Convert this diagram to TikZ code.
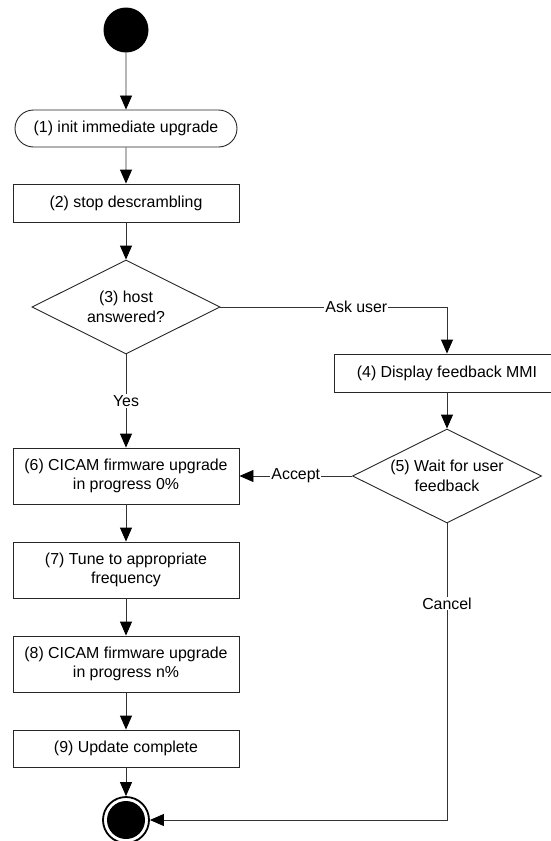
\documentclass[tikz,border=0pt]{standalone}
\usepackage{fontspec}
\setmainfont{Liberation Sans}
\usetikzlibrary{shapes.geometric,shapes.misc,arrows.meta}
\begin{document}
\begin{tikzpicture}[x=1pt,y=-1pt,
  font=\fontsize{15.9}{19.5}\selectfont,
  every node/.style={align=center},
  actbox/.style={draw=black!85,line width=0.9pt,rectangle,minimum width=226pt,inner sep=2pt},
  roundact/.style={draw=black!85,line width=0.9pt,rounded rectangle,minimum width=226pt,minimum height=37pt,inner sep=2pt},
  decide/.style={draw=black!85,line width=0.9pt,diamond,aspect=2,minimum width=188pt,minimum height=94pt,inner sep=-6pt},
  conn/.style={draw=black!80,line width=0.9pt,-{Triangle[length=14pt,width=12pt,color=black]}},
  lbl/.style={fill=white,inner sep=1pt}]
\useasboundingbox (0,0) rectangle (550,841);
\node[circle,fill=black,minimum size=45pt,inner sep=0] (start) at (126,30) {};
\node[roundact] (n1) at (126,128.5) {(1) init immediate upgrade};
\node[actbox,minimum height=38pt] (n2) at (126,203) {(2) stop descrambling};
\node[decide] (n3) at (126,307) {(3) host\\answered?};
\node[actbox,minimum height=38pt] (n4) at (447,373) {(4) Display feedback MMI};
\node[decide,minimum width=189pt] (n5) at (447,476) {(5) Wait for user\\feedback};
\node[actbox,minimum height=56pt] (n6) at (126,476) {(6) CICAM firmware upgrade\\in progress 0\%};
\node[actbox,minimum height=56pt] (n7) at (126,570) {(7) Tune to appropriate\\frequency};
\node[actbox,minimum height=56pt] (n8) at (126,664) {(8) CICAM firmware upgrade\\in progress n\%};
\node[actbox,minimum height=37pt] (n9) at (126,748.5) {(9) Update complete};
\node[circle,draw=black,line width=1.8pt,minimum size=46pt,inner sep=0] (end) at (126,820) {};
\node[circle,fill=black,minimum size=38pt,inner sep=0] (endin) at (end.center) {};
\coordinate (askcorner) at (n3.east -| n4.north);
\coordinate (cancelcorner) at (n5.south |- end.east);
\draw[conn] (start) -- (n1);
\draw[conn] (n1) -- (n2);
\draw[conn] (n2) -- (n3);
\draw[conn] (n3) -- node[lbl] {Yes} (n6);
\draw[conn] (n3.east) -- node[lbl,pos=0.6] {Ask user} (askcorner) -- (n4.north);
\draw[conn] (n4) -- (n5);
\draw[conn] (n5.west) -- node[lbl] {Accept} (n6.east);
\draw[conn] (n6) -- (n7);
\draw[conn] (n7) -- (n8);
\draw[conn] (n8) -- (n9);
\draw[conn] (n9) -- (end);
\draw[conn] (n5.south) -- node[lbl,pos=0.27] {Cancel} (cancelcorner) -- (end.east);
\end{tikzpicture}
\end{document}
